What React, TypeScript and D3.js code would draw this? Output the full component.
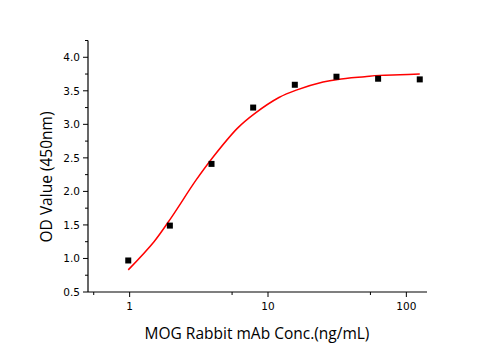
import React, { useEffect, useRef } from 'react'
import * as d3 from 'd3'

// measured points (2-fold dilution series)
const concentrations = [0.977, 1.953, 3.906, 7.8125, 15.625, 31.25, 62.5, 125]
const odValues = [0.97, 1.49, 2.41, 3.25, 3.59, 3.71, 3.68, 3.67]

// fitted curve
const fitX = [0.977, 1.5, 2, 3, 4, 6, 8, 12, 16, 25, 32, 50, 64, 90, 125]
const fitY = [0.83, 1.25, 1.61, 2.16, 2.51, 2.94, 3.16, 3.4, 3.51, 3.63, 3.67, 3.71, 3.73, 3.74, 3.75]

const xMajorTicks = [1, 10, 100]
const xMinorTicks = [0.55, 5.5, 55]
const yMajorTicks = [0.5, 1.0, 1.5, 2.0, 2.5, 3.0, 3.5, 4.0]
const yMinorTicks = [0.75, 1.25, 1.75, 2.25, 2.75, 3.25, 3.75, 4.25]

function App() {
    const ref = useRef(null)

    useEffect(() => {
        const width = 495
        const height = 350
        const margin = { top: 40.5, right: 68, bottom: 58, left: 88 }

        const svg = d3.select(ref.current)
        svg.selectAll('*').remove()

        const x = d3.scaleLog()
            .domain([0.5, 141])
            .range([margin.left, width - margin.right])

        const y = d3.scaleLinear()
            .domain([0.5, 4.25])
            .range([height - margin.bottom, margin.top])

        const tickFont = '"DejaVu Sans", sans-serif'
        const titleFont = '"Open Sans", sans-serif'

        // bottom axis
        const xAxisG = svg.append('g')
        xAxisG.append('line')
            .attr('x1', margin.left).attr('x2', x.range()[1])
            .attr('y1', y(0.5)).attr('y2', y(0.5))
            .attr('stroke', '#000').attr('stroke-width', 1.2)
        xAxisG.selectAll('.major')
            .data(xMajorTicks)
            .join('line')
            .attr('x1', d => x(d)).attr('x2', d => x(d))
            .attr('y1', y(0.5)).attr('y2', y(0.5) + 5)
            .attr('stroke', '#000').attr('stroke-width', 1)
        xAxisG.selectAll('.minor')
            .data(xMinorTicks)
            .join('line')
            .attr('x1', d => x(d)).attr('x2', d => x(d))
            .attr('y1', y(0.5)).attr('y2', y(0.5) + 3)
            .attr('stroke', '#000').attr('stroke-width', 1)
        xAxisG.selectAll('text')
            .data(xMajorTicks)
            .join('text')
            .attr('x', d => x(d))
            .attr('y', y(0.5) + 17.5)
            .attr('text-anchor', 'middle')
            .style('font-family', tickFont)
            .style('font-size', '10.5px')
            .text(d => d)

        // left axis
        const yAxisG = svg.append('g')
        yAxisG.append('line')
            .attr('x1', margin.left).attr('x2', margin.left)
            .attr('y1', y(0.5)).attr('y2', margin.top)
            .attr('stroke', '#000').attr('stroke-width', 1.2)
        yAxisG.selectAll('.major')
            .data(yMajorTicks)
            .join('line')
            .attr('x1', margin.left - 5).attr('x2', margin.left)
            .attr('y1', d => y(d)).attr('y2', d => y(d))
            .attr('stroke', '#000').attr('stroke-width', 1)
        yAxisG.selectAll('.minor')
            .data(yMinorTicks)
            .join('line')
            .attr('x1', margin.left - 3).attr('x2', margin.left)
            .attr('y1', d => y(d)).attr('y2', d => y(d))
            .attr('stroke', '#000').attr('stroke-width', 1)
        yAxisG.selectAll('text')
            .data(yMajorTicks)
            .join('text')
            .attr('x', margin.left - 8)
            .attr('y', d => y(d) + 3.8)
            .attr('text-anchor', 'end')
            .style('font-family', tickFont)
            .style('font-size', '10.5px')
            .text(d => d3.format('.1f')(d))

        // axis titles
        svg.append('text')
            .attr('x', 257)
            .attr('y', 339)
            .attr('text-anchor', 'middle')
            .style('font-family', titleFont)
            .style('font-size', '15.5px')
            .text('MOG Rabbit mAb Conc.(ng/mL)')

        svg.append('text')
            .attr('transform', `translate(52,177) rotate(-90)`)
            .attr('text-anchor', 'middle')
            .style('font-family', titleFont)
            .style('font-size', '15.5px')
            .text('OD Value (450nm)')

        // fitted curve
        const line = d3.line()
            .x(d => x(d[0]))
            .y(d => y(d[1]))
            .curve(d3.curveCatmullRom.alpha(0.5))
        svg.append('path')
            .datum(fitX.map((v, i) => [v, fitY[i]]))
            .attr('d', line)
            .attr('fill', 'none')
            .attr('stroke', '#ff0000')
            .attr('stroke-width', 1.5)

        // points
        const size = 6
        svg.append('g')
            .selectAll('rect')
            .data(concentrations.map((v, i) => [v, odValues[i]]))
            .join('rect')
            .attr('x', d => x(d[0]) - size / 2)
            .attr('y', d => y(d[1]) - size / 2)
            .attr('width', size)
            .attr('height', size)
            .attr('fill', '#000')
    }, [])

    return (
        <svg ref={ref} width={495} height={350}
            style={{ position: 'absolute', left: 0, top: 0, background: '#fff' }} />
    )
}

export default App
